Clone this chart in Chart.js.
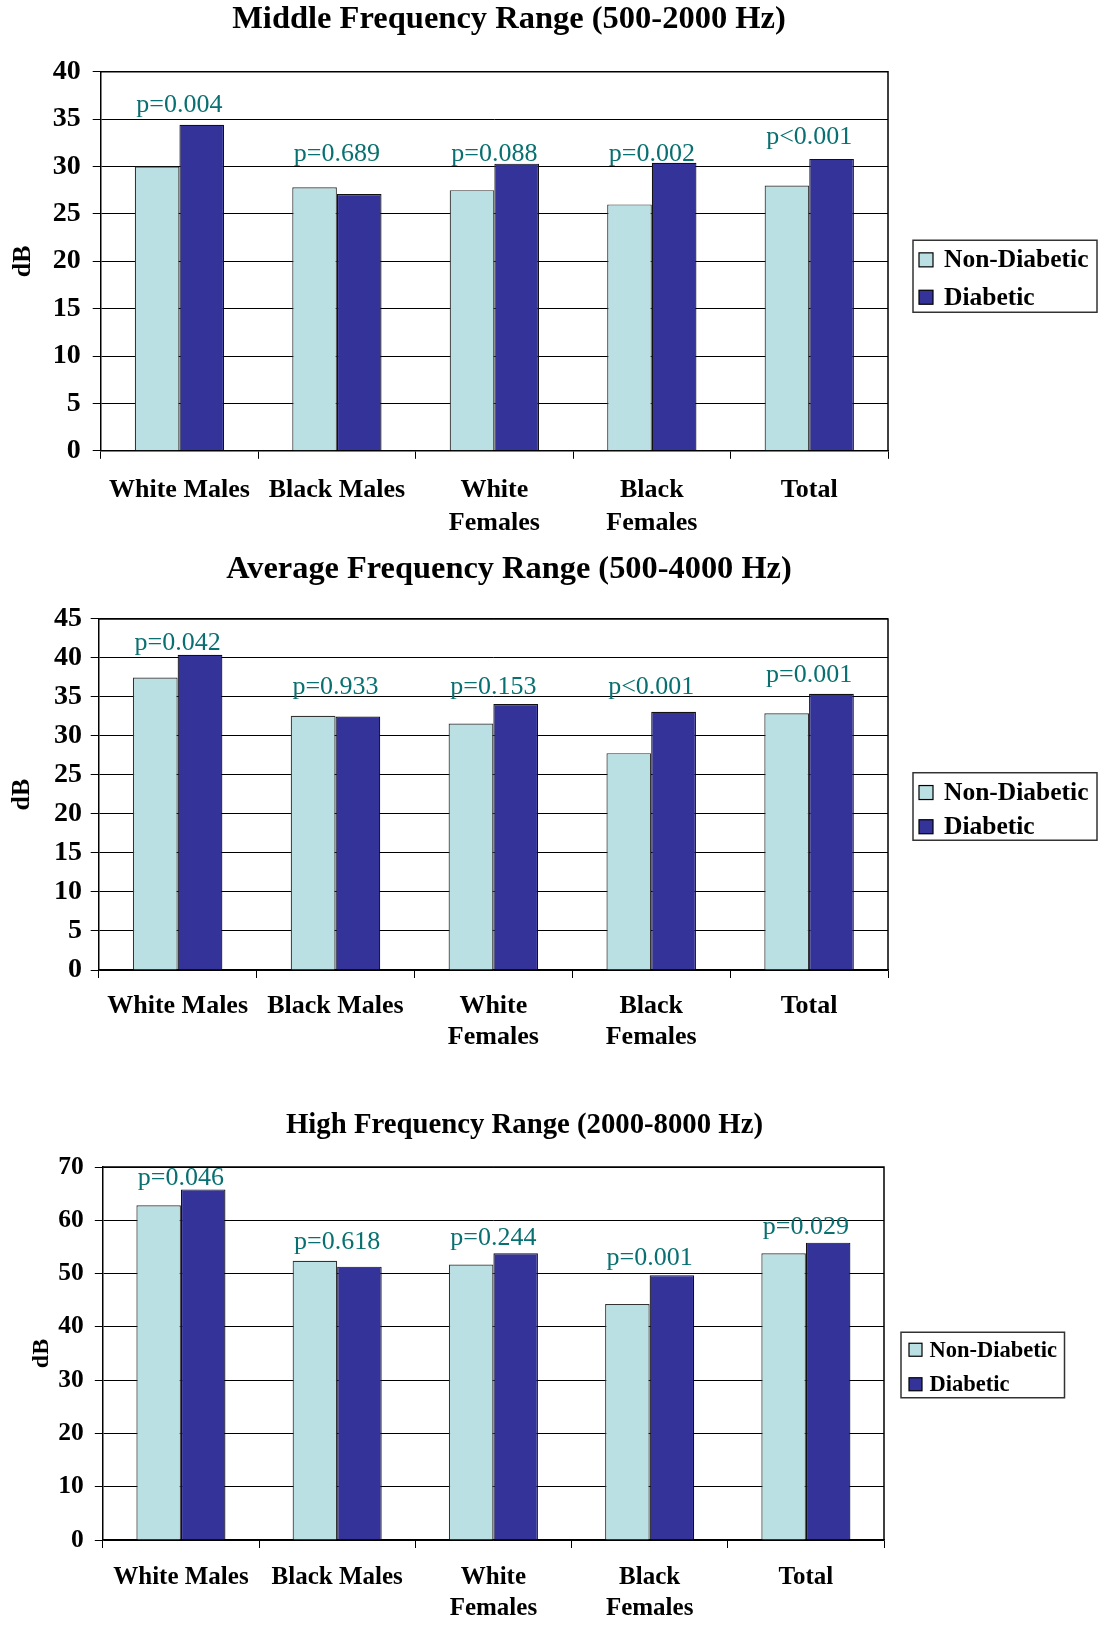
<!DOCTYPE html>
<html>
<head>
<meta charset="utf-8">
<script src="https://cdn.jsdelivr.net/npm/chart.js@4.4.1/dist/chart.umd.min.js"></script>
<style>
  body { margin: 0; background: #fff; width: 1104px; height: 1628px; overflow: hidden; }
  .box { position: absolute; left: 0; width: 1104px; }
</style>
</head>
<body>
<div class="box" style="top:0;height:545px"><canvas id="mid"></canvas></div>
<div class="box" style="top:545px;height:515px"><canvas id="avg"></canvas></div>
<div class="box" style="top:1060px;height:568px"><canvas id="high"></canvas></div>
<script>
// values (dB)
const categories = ["White Males", "Black Males", ["White", "Females"], ["Black", "Females"], "Total"];
const seriesNames = ["Non-Diabetic", "Diabetic"];

const midNonDiabetic = [30.0, 27.8, 27.5, 26.0, 28.0];
const midDiabetic = [34.4, 27.1, 30.3, 30.4, 30.8];
const midPValues = ["p=0.004", "p=0.689", "p=0.088", "p=0.002", "p<0.001"];
const midLabelAt = [36.5, 31.3, 31.3, 31.3, 33.1];
const midTicks = [0, 5, 10, 15, 20, 25, 30, 35, 40];

const avgNonDiabetic = [37.5, 32.6, 31.6, 27.8, 32.9];
const avgDiabetic = [40.4, 32.5, 34.1, 33.1, 35.4];
const avgPValues = ["p=0.042", "p=0.933", "p=0.153", "p<0.001", "p=0.001"];
const avgLabelAt = [41.9, 36.2, 36.2, 36.2, 37.8];
const avgTicks = [0, 5, 10, 15, 20, 25, 30, 35, 40, 45];

const highNonDiabetic = [62.8, 52.4, 51.7, 44.3, 53.8];
const highDiabetic = [65.8, 51.3, 53.8, 49.7, 55.8];
const highPValues = ["p=0.046", "p=0.618", "p=0.244", "p=0.001", "p=0.029"];
const highLabelAt = [67.9, 55.8, 56.7, 52.8, 58.7];
const highTicks = [0, 10, 20, 30, 40, 50, 60, 70];

const FONT = "'Liberation Serif', 'Times New Roman', serif";
const LIGHT = "#BAE0E3";
const DARK = "#333399";

// top + right border of the plot area
const framePlugin = {
  id: "frame",
  afterDraw(chart) {
    const { ctx, chartArea: a } = chart;
    ctx.save();
    ctx.strokeStyle = "#000";
    ctx.lineWidth = 1.5;
    ctx.beginPath();
    ctx.moveTo(a.left, a.top);
    ctx.lineTo(a.right, a.top);
    ctx.lineTo(a.right, a.bottom);
    ctx.stroke();
    ctx.restore();
  }
};

function pLabels(texts, levels) {
  return {
    id: "pLabels",
    afterDatasetsDraw(chart) {
      const x = chart.scales.x, y = chart.scales.y, ctx = chart.ctx;
      ctx.save();
      ctx.font = "26px " + FONT;
      ctx.fillStyle = "#087070";
      ctx.textAlign = "center";
      ctx.textBaseline = "middle";
      texts.forEach((t, i) => ctx.fillText(t, x.getPixelForValue(i), y.getPixelForValue(levels[i])));
      ctx.restore();
    }
  };
}

// boxed legend to the right of the plot
function boxLegend(o) {
  return {
    id: "boxLegend",
    afterDraw(chart) {
      const { ctx, chartArea: a } = chart;
      const left = a.right + o.dx;
      const top = (a.top + a.bottom) / 2 + o.dy - o.h / 2;
      ctx.save();
      ctx.strokeStyle = "#333";
      ctx.lineWidth = 1.5;
      ctx.strokeRect(left, top, o.w, o.h);
      ctx.font = "bold " + o.size + "px " + FONT;
      ctx.textBaseline = "middle";
      ctx.textAlign = "left";
      chart.data.datasets.forEach((ds, i) => {
        const cy = top + o.rows[i];
        ctx.fillStyle = ds.backgroundColor;
        ctx.fillRect(left + o.sqX, cy - o.sq / 2, o.sq, o.sq);
        ctx.lineWidth = 1.2;
        ctx.strokeStyle = "#000";
        ctx.strokeRect(left + o.sqX, cy - o.sq / 2, o.sq, o.sq);
        ctx.fillStyle = "#000";
        ctx.fillText(ds.label, left + o.textX, cy + 1);
      });
      ctx.restore();
    }
  };
}

function makeChart(id, title, nonDiabetic, diabetic, pTexts, pAt, yTicks, L) {
  const step = yTicks[1] - yTicks[0];
  new Chart(document.getElementById(id), {
    type: "bar",
    data: {
      labels: categories,
      datasets: [
        { label: seriesNames[0], data: nonDiabetic, backgroundColor: LIGHT, borderColor: "#333", borderWidth: 1.2 },
        { label: seriesNames[1], data: diabetic, backgroundColor: DARK, borderColor: "#111", borderWidth: 1.2 }
      ]
    },
    options: {
      responsive: true,
      maintainAspectRatio: false,
      animation: false,
      datasets: { bar: { categoryPercentage: L.catPct, barPercentage: 1 } },
      layout: { padding: { left: 0, right: L.padRight, top: 0, bottom: 0 } },
      plugins: {
        legend: { display: false },
        tooltip: { enabled: false },
        title: {
          display: true,
          text: title,
          color: "#000",
          font: { family: FONT, size: L.titleSize, weight: "bold" },
          padding: { top: L.titleTop, bottom: L.titleBottom }
        }
      },
      scales: {
        x: {
          grid: { display: true, drawOnChartArea: false, offset: true, tickLength: 8, color: "#000" },
          border: { color: "#000", width: 1.5 },
          ticks: {
            color: "#000",
            font: { family: FONT, size: L.tickSize, weight: "bold", lineHeight: L.xLine },
            padding: L.xPad,
            maxRotation: 0,
            autoSkip: false
          },
          afterFit: (s) => { s.height = L.xHeight; }
        },
        y: {
          min: yTicks[0],
          max: yTicks[yTicks.length - 1],
          ticks: { stepSize: step, color: "#000", font: { family: FONT, size: L.yTickSize, weight: "bold" }, padding: L.yPad },
          grid: { color: "#000", lineWidth: 1, tickLength: 8 },
          border: { color: "#000", width: 1.5 },
          title: {
            display: true,
            text: "dB",
            color: "#000",
            font: { family: FONT, size: L.dbSize, weight: "bold" },
            padding: { top: L.dbTop, bottom: 0 }
          },
          afterFit: (s) => { s.width = L.yWidth; }
        },
        spacer: {
          type: "linear",
          position: "right",
          display: true,
          grid: { display: false },
          border: { display: false },
          ticks: { display: false },
          afterFit: (s) => { s.width = L.rightWidth; }
        }
      }
    },
    plugins: [framePlugin, pLabels(pTexts, pAt), boxLegend(L.legend)]
  });
}

makeChart("mid", "Middle Frequency Range (500-2000 Hz)", midNonDiabetic, midDiabetic, midPValues, midLabelAt, midTicks, {
  catPct: 0.567, padRight: 86, rightWidth: 130, yWidth: 100.7, xHeight: 94.2,
  titleSize: 32.5, titleTop: 0, titleBottom: 32.7, tickSize: 26, yTickSize: 28, xLine: 1.27, xPad: 14.5, yPad: 12,
  dbSize: 26, dbTop: 7.4,
  legend: { dx: 25, dy: 15, w: 184, h: 72, rows: [19.6, 57], sqX: 6, sq: 14, textX: 31, size: 25.5 }
});

makeChart("avg", "Average Frequency Range (500-4000 Hz)", avgNonDiabetic, avgDiabetic, avgPValues, avgLabelAt, avgTicks, {
  catPct: 0.567, padRight: 86, rightWidth: 130, yWidth: 98.7, xHeight: 90,
  titleSize: 32.4, titleTop: 5.5, titleBottom: 29.6, tickSize: 26, yTickSize: 28, xLine: 1.2, xPad: 12.5, yPad: 8.7,
  dbSize: 26, dbTop: 7,
  legend: { dx: 25, dy: 12, w: 184, h: 67.5, rows: [19.8, 54], sqX: 6, sq: 14, textX: 31, size: 25.5 }
});

makeChart("high", "High Frequency Range (2000-8000 Hz)", highNonDiabetic, highDiabetic, highPValues, highLabelAt, highTicks, {
  catPct: 0.57, padRight: 55, rightWidth: 165, yWidth: 102.8, xHeight: 88,
  titleSize: 28.75, titleTop: 48.75, titleBottom: 23.75, tickSize: 25, yTickSize: 25.5, xLine: 1.24, xPad: 14.5, yPad: 11,
  dbSize: 24, dbTop: 27,
  legend: { dx: 17, dy: 11.5, w: 163.5, h: 65.5, rows: [17.5, 52], sqX: 8, sq: 13, textX: 28.6, size: 22.5 }
});
</script>
</body>
</html>
